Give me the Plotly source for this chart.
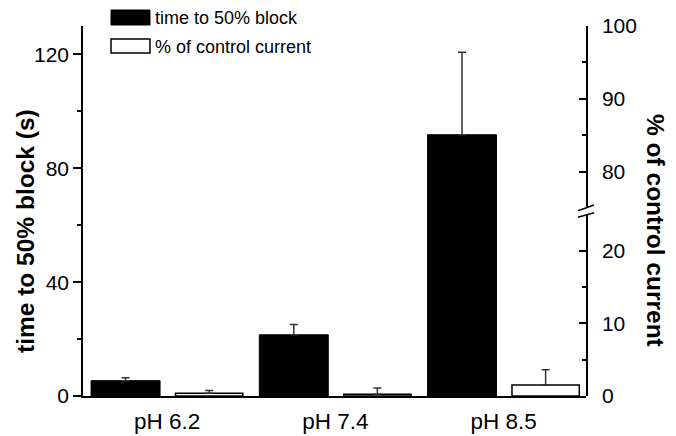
import plotly.graph_objects as go

categories = ["pH 6.2", "pH 7.4", "pH 8.5"]
time_to_block = [5.4, 21.5, 91.8]
time_to_block_err = [1.0, 3.6, 29.0]
pct_control = [0.37, 0.24, 1.52]
pct_control_err = [0.4, 0.85, 2.1]

left_ticks = [0, 40, 80, 120]
left_minor = [20, 60, 100]
right_low_ticks = [0, 10, 20]
right_low_minor = [5, 15]
right_up_ticks = [80, 90, 100]
right_up_minor = [85, 95]

FONT = "Liberation Sans, Arial, sans-serif"
W, H = 676, 436
L, R, T, B = 83, 586, 26, 396
PW, PH = R - L, B - T


def px(x):
    return (x - L) / PW


def py(y):
    return (B - y) / PH


fig = go.Figure()
fig.add_trace(go.Bar(
    x=categories, y=time_to_block, name="time to 50% block",
    marker=dict(color="black", line=dict(color="black", width=1)),
    offset=-0.452, width=0.41,
    error_y=dict(type="data", array=time_to_block_err, symmetric=False,
                 arrayminus=[0] * len(categories), color="#333333",
                 thickness=1.5, width=4),
    yaxis="y", showlegend=False,
))
fig.add_trace(go.Bar(
    x=categories, y=pct_control, name="% of control current",
    marker=dict(color="white", line=dict(color="black", width=1.5)),
    offset=0.05, width=0.40,
    error_y=dict(type="data", array=pct_control_err, symmetric=False,
                 arrayminus=[0] * len(categories), color="#333333",
                 thickness=1.5, width=4),
    yaxis="y2", showlegend=False,
))
fig.add_trace(go.Scatter(x=[], y=[], yaxis="y3", showlegend=False))

lo_top = 0.491
up_bot = 0.508

fig.update_layout(
    width=W, height=H,
    margin=dict(l=L, r=W - R, t=T, b=H - B, autoexpand=False),
    paper_bgcolor="white", plot_bgcolor="rgba(0,0,0,0)",
    font=dict(family=FONT, size=21, color="black"),
    barmode="overlay",
    xaxis=dict(range=[-0.5, 2.49], showline=True, linecolor="black", linewidth=1.5,
               ticks="", showgrid=False, zeroline=False, anchor="y", automargin=False,
               tickfont=dict(size=22.5), ticklabelstandoff=4),
    yaxis=dict(range=[0, 130], tickvals=left_ticks, ticks="outside", ticklen=8,
               tickwidth=1.5, tickcolor="black", automargin=False,
               minor=dict(tickvals=left_minor, ticks="outside", ticklen=4,
                          tickwidth=1.5, tickcolor="black", showgrid=False),
               showline=True, linecolor="black", linewidth=1.5,
               showgrid=False, zeroline=False, anchor="x"),
    yaxis2=dict(domain=[0, lo_top], range=[0, 25], side="right", anchor="x",
                tickvals=right_low_ticks, ticks="inside", ticklen=7, tickwidth=1.5,
                tickcolor="black", automargin=False,
                minor=dict(tickvals=right_low_minor, ticks="inside", ticklen=4,
                           tickwidth=1.5, tickcolor="black", showgrid=False),
                showline=True, linecolor="black", linewidth=1.5,
                showgrid=False, zeroline=False, ticklabelstandoff=10),
    yaxis3=dict(domain=[up_bot, 1], range=[75, 100], side="right", anchor="x",
                tickvals=right_up_ticks, ticks="inside", ticklen=7, tickwidth=1.5,
                tickcolor="black", automargin=False,
                minor=dict(tickvals=right_up_minor, ticks="inside", ticklen=4,
                           tickwidth=1.5, tickcolor="black", showgrid=False),
                showline=True, linecolor="black", linewidth=1.5,
                showgrid=False, zeroline=False, ticklabelstandoff=10),
)

# axis break mark
for (y1, y2) in [(210.7, 205.0), (217.3, 212.7)]:
    fig.add_shape(type="line", xref="paper", yref="paper",
                  x0=px(578), x1=px(594), y0=py(y1), y1=py(y2),
                  line=dict(color="black", width=1.5))

# legend
fig.add_shape(type="rect", xref="paper", yref="paper",
              x0=px(111), x1=px(150), y0=py(25), y1=py(10),
              fillcolor="black", line=dict(color="black", width=1))
fig.add_shape(type="rect", xref="paper", yref="paper",
              x0=px(111), x1=px(150), y0=py(53), y1=py(39),
              fillcolor="white", line=dict(color="black", width=1.5))
fig.add_annotation(text="time to 50% block", xref="paper", yref="paper",
                   x=px(153), y=py(18), xanchor="left", yanchor="middle",
                   showarrow=False, font=dict(size=18, family=FONT))
fig.add_annotation(text="% of control current", xref="paper", yref="paper",
                   x=px(153), y=py(46.5), xanchor="left", yanchor="middle",
                   showarrow=False, font=dict(size=18, family=FONT))

# axis titles
fig.add_annotation(text="<b>time to 50% block (s)</b>", xref="paper", yref="paper",
                   x=px(25), y=py(231), xanchor="center", yanchor="middle",
                   textangle=-90, showarrow=False, font=dict(size=24.5, family=FONT))
fig.add_annotation(text="<b>% of control current</b>", xref="paper", yref="paper",
                   x=px(655), y=py(230), xanchor="center", yanchor="middle",
                   textangle=90, showarrow=False, font=dict(size=24.5, family=FONT))

fig.write_html("out.html", config={"displayModeBar": False},
               post_script="document.body.style.margin='0';document.body.style.overflow='hidden';")
